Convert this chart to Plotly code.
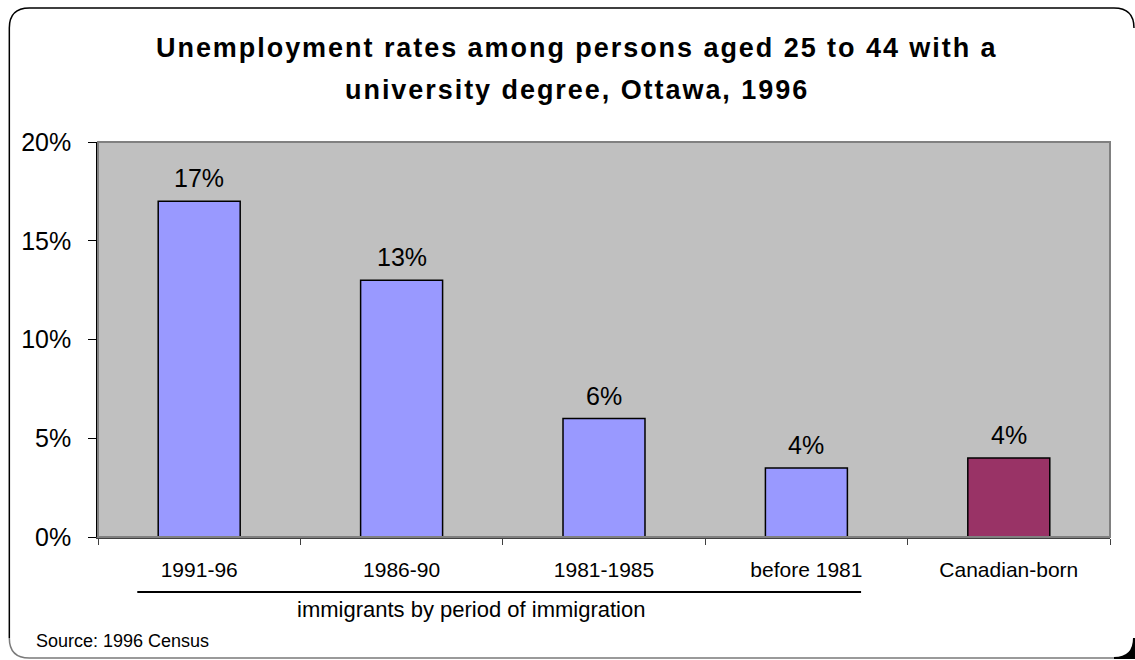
import plotly.graph_objects as go

# Unemployment rates, persons aged 25-44 with a university degree, Ottawa 1996
categories = ["1991-96", "1986-90", "1981-1985", "before 1981", "Canadian-born"]
rates = [17.0, 13.0, 6.0, 3.5, 4.0]
bar_colors = ["#9999FF", "#9999FF", "#9999FF", "#9999FF", "#993366"]
y_ticks = [0, 5, 10, 15, 20]
y_tick_labels = ["0%", "5%", "10%", "15%", "20%"]

title_lines = [
    "Unemployment rates among persons aged 25 to 44 with a",
    "university degree, Ottawa, 1996",
]
group_label = "immigrants by period of immigration"
source_note = "Source: 1996 Census"

W, H = 1135, 660
# plot-area box in pixels
PL, PR, PT, PB = 97.7, 1110.0, 142.0, 537.0
FONT = "Liberation Sans, Arial, sans-serif"


def px(x):
    """pixel x -> paper x"""
    return (x - PL) / (PR - PL)


def py(y):
    """pixel y -> paper y"""
    return (PB - y) / (PB - PT)


fig = go.Figure()
fig.add_trace(go.Bar(
    x=categories,
    y=rates,
    marker=dict(color=bar_colors, line=dict(color="black", width=1.5)),
    width=0.405,
    hovertemplate="%{x}: %{y}%<extra></extra>",
))

shapes = []
# plot-area border (top / right in grey)
shapes.append(dict(type="rect", xref="paper", yref="paper", x0=0, x1=1, y0=0, y1=1,
                   line=dict(color="#808080", width=2), layer="above"))
# bracket line under the immigrant categories
shapes.append(dict(type="line", xref="paper", yref="paper",
                   x0=px(137), x1=px(861), y0=py(592), y1=py(592),
                   line=dict(color="black", width=2)))

# rounded outer frame
fl, fr, ft, fb, r = 9.0, 1134.0, 8.0, 658.0, 20.0
frame_path = (
    f"M {px(fl)},{py(fb - r)} L {px(fl)},{py(ft + r)} "
    f"Q {px(fl)},{py(ft)} {px(fl + r)},{py(ft)} "
    f"L {px(fr - r)},{py(ft)} Q {px(fr)},{py(ft)} {px(fr)},{py(ft + r)}"
)
shapes.append(dict(type="path", xref="paper", yref="paper", path=frame_path,
                   line=dict(color="black", width=1.5), layer="below"))
frame_bottom = (
    f"M {px(fl)},{py(fb - r)} Q {px(fl)},{py(fb)} {px(fl + r)},{py(fb)} "
    f"L {px(fr - r)},{py(fb)}"
)
shapes.append(dict(type="path", xref="paper", yref="paper", path=frame_bottom,
                   line=dict(color="#7a7a7a", width=1.5), layer="below"))
frame_corner = (
    f"M {px(fr - r)},{py(fb)} Q {px(fr)},{py(fb)} {px(fr)},{py(fb - r)} "
    f"L {px(fr)},{py(fb)} Z"
)
shapes.append(dict(type="path", xref="paper", yref="paper", path=frame_corner,
                   fillcolor="black", line=dict(color="black", width=2), layer="below"))

title_font = dict(family=FONT, size=27, color="black", weight="bold")
annotations = [
    dict(text=f'<span style="letter-spacing:1.95px">{title_lines[0]}</span>',
         xref="paper", yref="paper", x=px(577), y=py(48),
         xanchor="center", yanchor="middle", showarrow=False, font=title_font),
    dict(text=f'<span style="letter-spacing:1.95px">{title_lines[1]}</span>',
         xref="paper", yref="paper", x=px(577), y=py(90),
         xanchor="center", yanchor="middle", showarrow=False, font=title_font),
    dict(text=group_label, xref="paper", yref="paper", x=px(295), y=py(609),
         xanchor="left", yanchor="middle", showarrow=False,
         font=dict(family=FONT, size=22, color="black")),
    dict(text=source_note, xref="paper", yref="paper", x=px(34), y=py(641),
         xanchor="left", yanchor="middle", showarrow=False,
         font=dict(family=FONT, size=18, color="black")),
]

# value labels above each bar, rounded to whole percent
for cat, val in zip(categories, rates):
    annotations.append(dict(
        x=cat, y=val, xref="x", yref="y",
        text=f"{round(val + 1e-9):.0f}%",
        showarrow=False, xanchor="center", yanchor="middle", yshift=23,
        font=dict(family=FONT, size=25, color="black"),
    ))

fig.update_layout(
    width=W, height=H,
    margin=dict(l=PL, r=W - PR, t=PT, b=H - PB, pad=0),
    paper_bgcolor="white",
    plot_bgcolor="#C0C0C0",
    showlegend=False,
    bargap=0.595,
    shapes=shapes,
    annotations=annotations,
    font=dict(family=FONT, color="black"),
    xaxis=dict(
        type="category",
        showgrid=False,
        showline=True, linecolor="#404040", linewidth=1.5,
        ticks="outside", tickson="boundaries", ticklen=6, tickcolor="#404040",
        tickfont=dict(family=FONT, size=21, color="black"),
        ticklabelstandoff=13,
        range=[-0.5, 4.5],
        fixedrange=True,
    ),
    yaxis=dict(
        range=[0, 20],
        tickvals=y_ticks, ticktext=y_tick_labels,
        showgrid=False, zeroline=False,
        showline=True, linecolor="black", linewidth=1.5,
        ticks="outside", ticklen=8, tickcolor="black",
        tickfont=dict(family=FONT, size=25, color="black"),
        ticklabelstandoff=12,
        fixedrange=True,
    ),
)

fig.write_html("out.html")
